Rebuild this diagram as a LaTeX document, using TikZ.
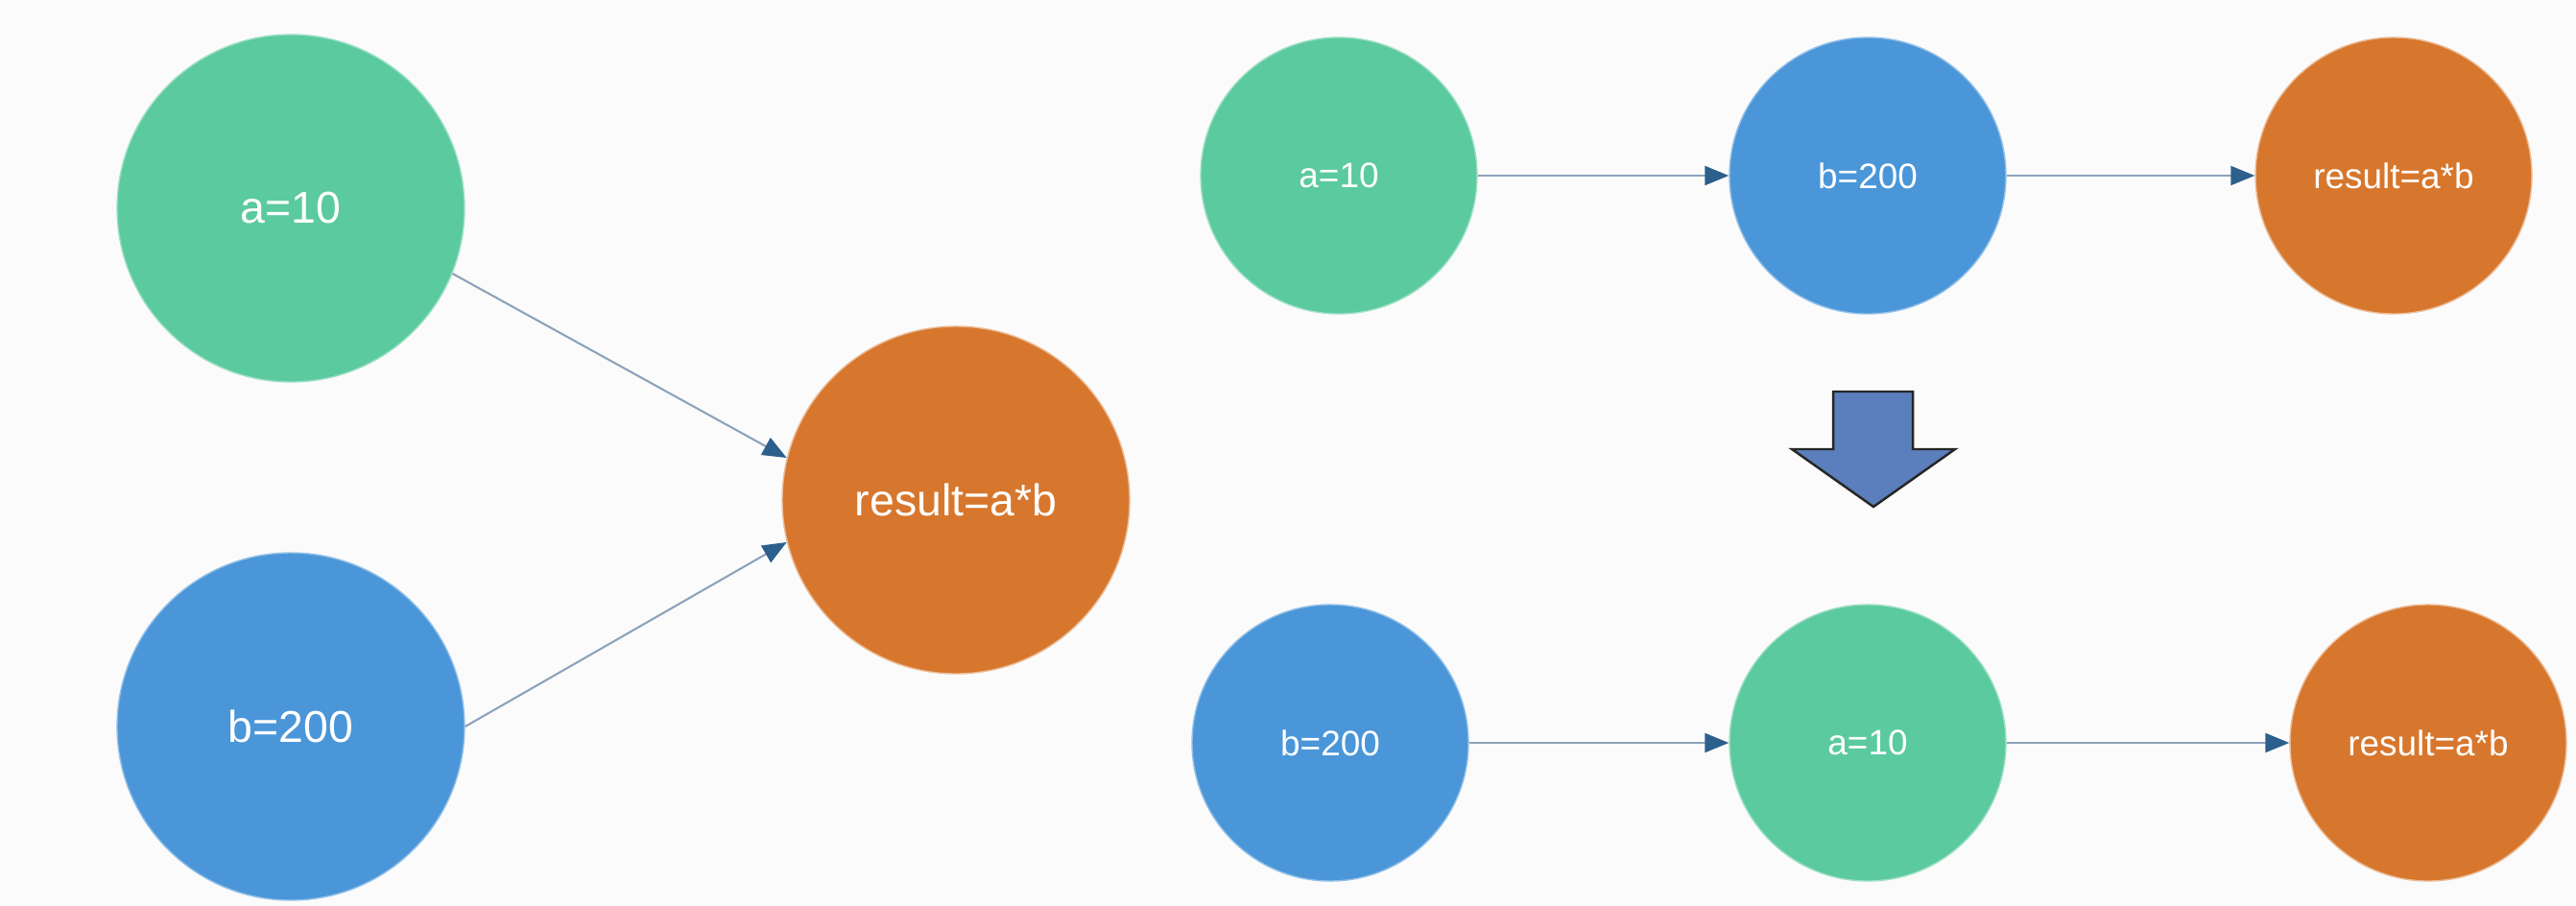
\documentclass[tikz,border=0pt]{standalone}
\usepackage{fontspec}
\setmainfont{Liberation Sans}
\usetikzlibrary{arrows.meta}

\definecolor{nodegreen}{HTML}{5BCA9E}
\definecolor{nodeblue}{HTML}{4A96D8}
\definecolor{nodeorange}{HTML}{D7772D}
\definecolor{linegray}{HTML}{8EA3BA}
\definecolor{tipblue}{HTML}{2C5F8C}
\definecolor{bigarrow}{HTML}{5B7EBC}
\definecolor{bgwhite}{HTML}{FBFBFB}

\begin{document}
\begin{tikzpicture}
            \tikzstyle{big} = [circle, minimum size=3.62cm, inner sep=0pt, text=white, font=\fontsize{13.2}{16}\selectfont]
            \tikzstyle{small} = [circle, minimum size=2.88cm, inner sep=0pt, text=white, font=\fontsize{10.5}{13}\selectfont]
            \tikzstyle{green} = [fill=nodegreen, draw=nodegreen!60!white, line width=0.4pt]
            \tikzstyle{blue} = [fill=nodeblue, draw=nodeblue!60!white, line width=0.4pt]
            \tikzstyle{orange} = [fill=nodeorange, draw=nodeorange!50!white, line width=0.4pt]
            \tikzstyle{arrow} = [draw=linegray, line width=0.6pt, -{Triangle[length=0.25cm,width=0.2cm,fill=tipblue,color=tipblue]}]

            % Background
            \fill [bgwhite] (0,0) rectangle (26.84,-9.44);
            \useasboundingbox (0,0) rectangle (26.84,-9.44);

            % Left: both inputs feed the product
            \node (al) [big, green] at (3.03,-2.17) {a=10};
            \node (bl) [big, blue, below of=al, node distance=5.4cm] {b=200};
            \node (resl) [big, orange] at (9.96,-5.21) {result=a*b};

            % Right, top row
            \node (at) [small, green] at (13.95,-1.83) {a=10};
            \node (bt) [small, blue, right of=at, node distance=5.51cm] {b=200};
            \node (rest) [small, orange, right of=bt, node distance=5.48cm] {result=a*b};

            % Right, bottom row
            \node (bb) [small, blue] at (13.86,-7.74) {b=200};
            \node (ab) [small, green, right of=bb, node distance=5.6cm] {a=10};
            \node (resb) [small, orange, right of=ab, node distance=5.84cm] {result=a*b};

            % Arrows
            \draw [arrow] (al.-22) -- (resl.166);
            \draw [arrow] (bl.0) -- (resl.194);
            \draw [arrow] (at) -- (bt);
            \draw [arrow] (bt) -- (rest);
            \draw [arrow] (bb) -- (ab);
            \draw [arrow] (ab) -- (resb);

            % Big down arrow
            \filldraw [fill=bigarrow, draw=black!85, line width=0.7pt, line join=miter]
                (19.10,-4.08) -- (19.93,-4.08) -- (19.93,-4.68) -- (20.37,-4.68)
                -- (19.52,-5.28) -- (18.67,-4.68) -- (19.10,-4.68) -- cycle;
        \end{tikzpicture}
\end{document}
